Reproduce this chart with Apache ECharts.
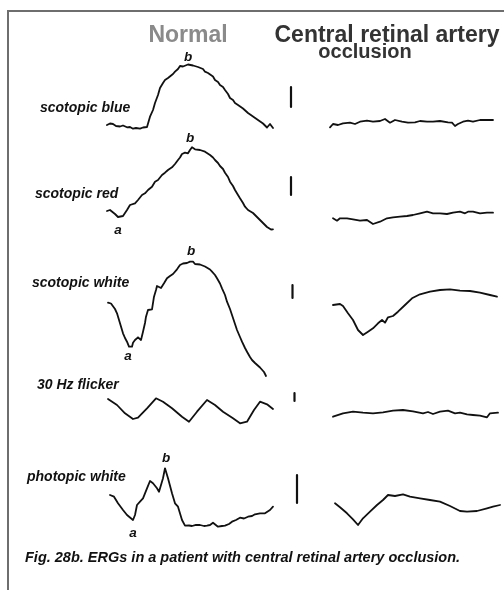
<!DOCTYPE html>
<html><head><meta charset="utf-8">
<script src="https://cdn.jsdelivr.net/npm/echarts/dist/echarts.min.js"></script>
<style>html,body{margin:0;padding:0;background:#fff}#c{width:504px;height:590px}</style>
</head><body><div id="c"></div>
<script>
// ---------- data ----------
const rowLabels = ['scotopic blue', 'scotopic red', 'scotopic white', '30 Hz flicker', 'photopic white'];
const columnTitles = ['Normal', 'Central retinal artery', 'occlusion'];
const caption = 'Fig. 28b. ERGs in a patient with central retinal artery occlusion.';

// Normal eye traces: [time, amplitude]
const normalBlue = [[0,10],[3,11.5],[6,11],[9,9],[13,8.5],[16,9.5],[20,7.7],[23,8],[26,6.3],[29,7],[33,6.3],[36,7.5],[38,6.7],[40,8],[43,18.3],[46,25],[48,32],[51,40],[53,47],[56,52],[58,55],[61,57],[63,59],[66,61],[68,63.3],[71,66],[73,69],[76,68.5],[78,70],[81,70.5],[83,71],[86,69.5],[88,69],[91,68],[93,67],[96,66],[98,63.3],[101,62],[103,60],[106,58.5],[108,55],[111,53],[113,50],[116,48],[118,45],[121,41],[123,37],[126,35],[128,32],[131,30],[133,28.3],[136,26.5],[138,25],[141,22],[143,20],[146,18.5],[148,17],[151,15],[153,13.3],[156,11.5],[158,10],[160,7.5],[161,8.3],[163,11],[165,10],[166,7]];
const normalRed = [[0,24],[3,25],[5,24.3],[8,21],[11,18],[13,16],[16,19],[18,22],[20,25],[22,27],[23,30],[25,29],[28,31.7],[30,33.5],[31,35],[33,34],[35,40],[37,39],[38,41.7],[40,43.5],[41,45],[43,44],[45,48.3],[47,49],[48,53.3],[50,52.5],[51,55],[53,57],[55,60],[57,59.5],[58,62.3],[60,63],[61,65],[63,65.5],[65,67.7],[67,69.5],[68,71],[70,72],[71,75],[73,77.5],[75,81],[77,80.5],[78,82.3],[80,81],[81,81.7],[83,85],[85,87.7],[87,86],[88,85.7],[90,86],[93,85],[95,84],[98,83.3],[100,82],[103,80],[106,77.5],[108,75],[111,72],[113,69],[116,66],[118,62.3],[121,58],[123,53.3],[126,49],[128,45],[131,40],[133,36.7],[136,32],[138,28.3],[141,25],[143,23.3],[146,22],[148,20],[151,17],[153,15],[156,12],[158,10],[160,8],[161,6.7],[164,5.5],[166,5.7]];
const normalWhite = [[1,82.3],[4,81.5],[6,80],[8,76],[10,71.7],[13,61.7],[16,51.7],[18,47],[20,43.3],[22,38.3],[24,37.5],[25,38.3],[26,42.3],[28,45],[29,46.7],[31,47.7],[33,46],[34,45],[36,53.3],[38,62],[39,68.3],[41,75],[43,75.5],[45,75.7],[47,88.3],[49,95],[50,99],[52,100],[54,97],[55,95.7],[57,101.7],[60,106.7],[63,109],[66,111],[68,113],[70,115.7],[73,120],[76,121.5],[78,122.3],[80,122],[83,123.3],[85,122.5],[86,123.3],[88,121],[90,120],[93,120.5],[95,119],[98,118.5],[100,117.7],[103,115.5],[105,113.3],[108,110],[110,106.7],[113,101.5],[115,96.7],[118,90],[120,83.3],[123,76],[125,70],[128,61],[130,55],[133,48],[135,43.3],[138,37],[140,33.3],[143,28],[145,25],[148,22],[150,20],[153,17.5],[155,15.7],[157,13],[159,9]];
const normalFlicker = [[1,31],[10,25],[18,16.7],[26,11],[31,12.3],[40,21.7],[49,31.7],[56,28.3],[65,21.7],[75,13.3],[82,8.3],[90,18.3],[100,30],[108,25],[116,18.3],[126,11.7],[133,6.7],[140,8.3],[147,20],[153,28.3],[160,25.7],[166,21]];
const normalPhotopic = [[3,40],[7,38.3],[11,31.7],[16,25],[20,20],[22,21.7],[26,15],[28,20],[30,30],[33,33.3],[36,36.7],[40,46.7],[43,54],[46,51.7],[50,46.7],[52,43.3],[56,56.7],[58,66.7],[61,56.7],[65,41.7],[68,31.7],[71,28.3],[75,15],[78,9.3],[82,9.5],[85,9],[89,10.2],[93,10],[97,9],[100,9.3],[103,10],[106,12.3],[108,10.5],[111,8.3],[115,9],[118,9.3],[122,11],[125,13.3],[129,15],[133,17.3],[137,16.5],[141,18.3],[145,19],[148,20.7],[153,21.7],[158,21.7],[163,25],[166,28.3]];

// Central retinal artery occlusion traces
const craoBlue = [[0,7.7],[3,11],[8,10],[13,11.7],[20,12.3],[25,11],[30,13.3],[37,14.3],[43,13.3],[50,14],[55,16],[60,12.3],[65,15],[72,13.3],[78,12.3],[85,12.7],[90,14],[97,13.3],[103,13.3],[110,14],[118,12.7],[122,12.3],[125,9],[128,11],[133,13.3],[138,14.3],[143,13.3],[150,15],[157,15],[163,15]];
const craoRed = [[3,16.7],[7,14.3],[10,16.7],[17,16.7],[23,15.7],[30,14.3],[37,15],[43,11],[50,13.3],[57,16.7],[63,17.7],[70,18.3],[77,19],[83,20],[90,21.7],[97,23.3],[103,21.7],[110,21.7],[117,21],[123,22.3],[130,23.3],[135,21.7],[138,23.3],[143,23.3],[150,21.7],[157,22.3],[163,22.3]];
const craoWhite = [[3,80],[10,81],[13,79],[18,71.7],[23,65],[28,55],[33,50],[38,53.3],[43,56.7],[48,61.7],[52,65],[55,62.3],[58,67.7],[63,69],[68,73.3],[75,80],[82,86.7],[90,90.7],[100,93.3],[110,95],[120,95.7],[130,94.3],[140,94],[150,92.3],[160,90],[167,88.3]];
const craoFlicker = [[3,13.3],[13,16.7],[23,18.3],[33,17.3],[43,16.7],[53,17.7],[63,19.3],[73,20],[83,18.7],[93,16.7],[98,18],[103,16],[110,18.3],[118,19.3],[125,16.7],[130,17.3],[137,15.7],[143,15],[150,14.3],[157,12.7],[160,16.7],[168,17.3]];
const craoPhotopic = [[5,31.7],[10,27.7],[17,21.7],[23,15.7],[28,10],[33,16.7],[40,23.3],[47,30],[53,35],[58,40],[65,39],[73,40.7],[80,38.3],[90,36.7],[100,35],[110,33.3],[120,29],[130,24],[137,23.3],[147,24],[157,26.7],[163,28.3],[170,30]];

// calibration bars: [time, top, bottom]
const scaleBars = [[11,48,28],[11,58,40],[12.5,100,87],[14.5,37,29],[17,60,32]];

// wave labels: [row, text, time, amplitude]
const waveLabels = [[0,'b',81,78],[1,'b',83,97],[1,'a',11,5],[2,'b',84,133.3],[2,'a',21,28.3],[4,'b',59,77],[4,'a',26,2]];

const normalTraces = [normalBlue, normalRed, normalWhite, normalFlicker, normalPhotopic];
const craoTraces = [craoBlue, craoRed, craoWhite, craoFlicker, craoPhotopic];

// ---------- layout ----------
const FONT = '"Liberation Sans", Arial, Helvetica, sans-serif';
const rowLayout = [{bottom:135,h:85},{bottom:235,h:105},{bottom:385,h:140},{bottom:430,h:45},{bottom:535,h:85}];
const cols = [{left:107,width:166,max:166},{left:330,width:170,max:170},{left:280,width:20,max:20}];
const rowLabelPos = [[40,108],[35,194],[32,283],[37,385],[27,477]];

const grid = [], xAxis = [], yAxis = [], series = [];
rowLayout.forEach((r, i) => {
  cols.forEach((c, j) => {
    const gi = grid.length;
    grid.push({left:c.left, top:r.bottom - r.h, width:c.width, height:r.h, containLabel:false});
    xAxis.push({type:'value', gridIndex:gi, min:0, max:c.max, show:false});
    yAxis.push({type:'value', gridIndex:gi, min:0, max:r.h, show:false});
    let data;
    if (j === 0) data = normalTraces[i];
    else if (j === 1) data = craoTraces[i];
    else { const b = scaleBars[i]; data = [[b[0], b[1]], [b[0], b[2]]]; }
    const s = {
      type:'line', xAxisIndex:gi, yAxisIndex:gi, data, showSymbol:false, symbol:'none',
      clip:false, silent:true, animation:false,
      lineStyle:{color:'#111', width: j === 2 ? 2.2 : 1.8, join:'round', cap:'round'}
    };
    if (j === 0) {
      const marks = waveLabels.filter(w => w[0] === i).map(w => ({name:w[1], coord:[w[2], w[3]]}));
      if (marks.length) s.markPoint = {
        symbol:'circle', symbolSize:1, silent:true, animation:false,
        itemStyle:{color:'rgba(0,0,0,0)'},
        label:{show:true, position:'inside', formatter:'{b}', color:'#111', fontStyle:'italic', fontWeight:'bold', fontSize:13.5, fontFamily:FONT},
        data: marks
      };
    }
    series.push(s);
  });
});

const graphic = [
  {type:'rect', shape:{x:8, y:11, width:600, height:700}, style:{fill:'none', stroke:'#6e6e6e', lineWidth:2}, silent:true},
  {type:'text', x:188, y:36, style:{text:columnTitles[0], font:'bold 23px ' + FONT, fill:'#8a8a8a', align:'center', verticalAlign:'middle'}},
  {type:'text', x:387, y:36, style:{text:columnTitles[1], font:'bold 23px ' + FONT, fill:'#333', align:'center', verticalAlign:'middle'}},
  {type:'text', x:365, y:52, style:{text:columnTitles[2], font:'bold 20px ' + FONT, fill:'#333', align:'center', verticalAlign:'middle'}},
  {type:'text', x:25, y:558, style:{text:caption, font:'italic bold 14.5px ' + FONT, fill:'#111', align:'left', verticalAlign:'middle'}}
];
rowLabels.forEach((t, i) => {
  graphic.push({type:'text', x:rowLabelPos[i][0], y:rowLabelPos[i][1], style:{text:t, font:'italic bold 14px ' + FONT, fill:'#111', align:'left', verticalAlign:'middle'}});
});

const chart = echarts.init(document.getElementById('c'), null, {renderer:'canvas'});
chart.setOption({backgroundColor:'#fff', animation:false, grid, xAxis, yAxis, series, graphic});
</script></body></html>
